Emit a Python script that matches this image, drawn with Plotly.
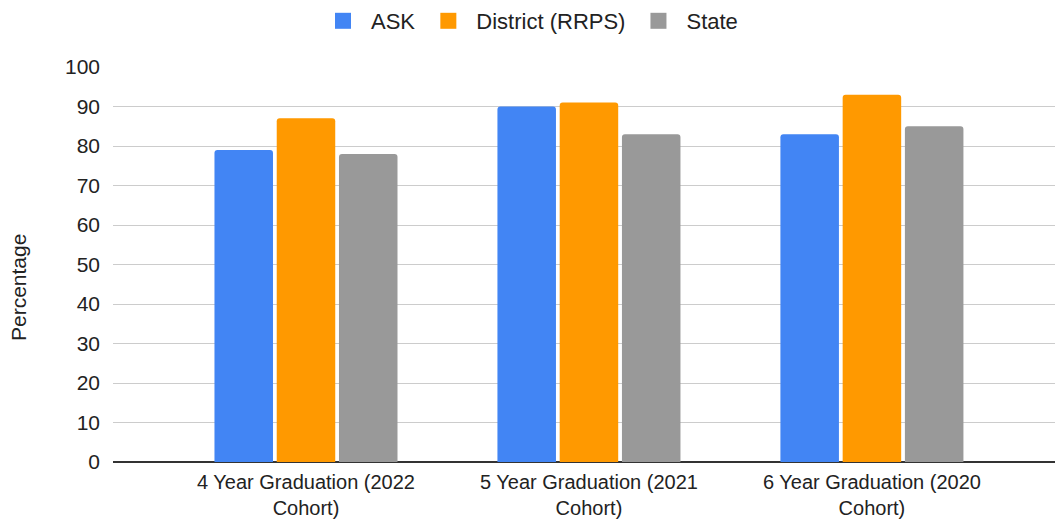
import plotly.graph_objects as go

categories = ["4 Year Graduation (2022<br>Cohort)", "5 Year Graduation (2021<br>Cohort)", "6 Year Graduation (2020<br>Cohort)"]
series_names = ["ASK", "District (RRPS)", "State"]
ask = [79, 90, 83]
district = [87, 91, 93]
state = [78, 83, 85]
y_ticks = [0, 10, 20, 30, 40, 50, 60, 70, 80, 90, 100]
colors = ["#4285f4", "#ff9900", "#999999"]

W, H = 1055, 523
L, R, T, B = 113, 0, 67, 61
FONT = "Arial, 'Liberation Sans', sans-serif"
TXT = "#222222"

fig = go.Figure()
xs = list(range(len(categories)))
for name, vals, col in zip(series_names, [ask, district, state], colors):
    fig.add_trace(go.Bar(x=xs, y=vals, name=name, showlegend=False,
                         marker=dict(color=col, line=dict(width=0), cornerradius=3)))
# legend entries (square keys)
for name, col in zip(series_names, colors):
    fig.add_trace(go.Scatter(x=[None], y=[None], mode="markers", name=name,
                             marker=dict(symbol="square", size=16, color=col)))

fig.update_layout(
    width=W, height=H,
    margin=dict(l=L, r=R, t=T, b=B),
    paper_bgcolor="white", plot_bgcolor="white",
    barmode="group", bargap=0.34, bargroupgap=0.06,
    font=dict(family=FONT, size=21, color=TXT),
    legend=dict(orientation="h", x=529 / W, xref="container", xanchor="center",
                y=1.0, yanchor="top", yref="container",
                font=dict(family=FONT, size=22, color=TXT), itemsizing="trace",
                itemwidth=46, traceorder="normal"),
    showlegend=True,
)
fig.update_xaxes(
    tickmode="array", tickvals=xs, ticktext=categories,
    range=[-0.682, 2.647], showgrid=False, showline=False, zeroline=False,
    ticks="", ticklabelstandoff=6, tickfont=dict(family=FONT, size=20, color=TXT),
)
fig.update_yaxes(
    range=[0, 100], tickvals=y_ticks, showgrid=True, gridcolor="#cccccc", gridwidth=1,
    zeroline=True, zerolinecolor="#333333", zerolinewidth=2,
    ticks="", ticklabelstandoff=12, tickfont=dict(family=FONT, size=21, color=TXT),
)
fig.add_annotation(text="Percentage", textangle=-90, xref="paper", yref="paper",
                   x=(18 - L) / (W - L - R), y=(H - B - 288) / (H - T - B),
                   xanchor="center", yanchor="middle", showarrow=False,
                   font=dict(family=FONT, size=21, color=TXT))
fig.write_html("out.html", config={"displayModeBar": False},
               post_script="document.body.style.margin='0';")
